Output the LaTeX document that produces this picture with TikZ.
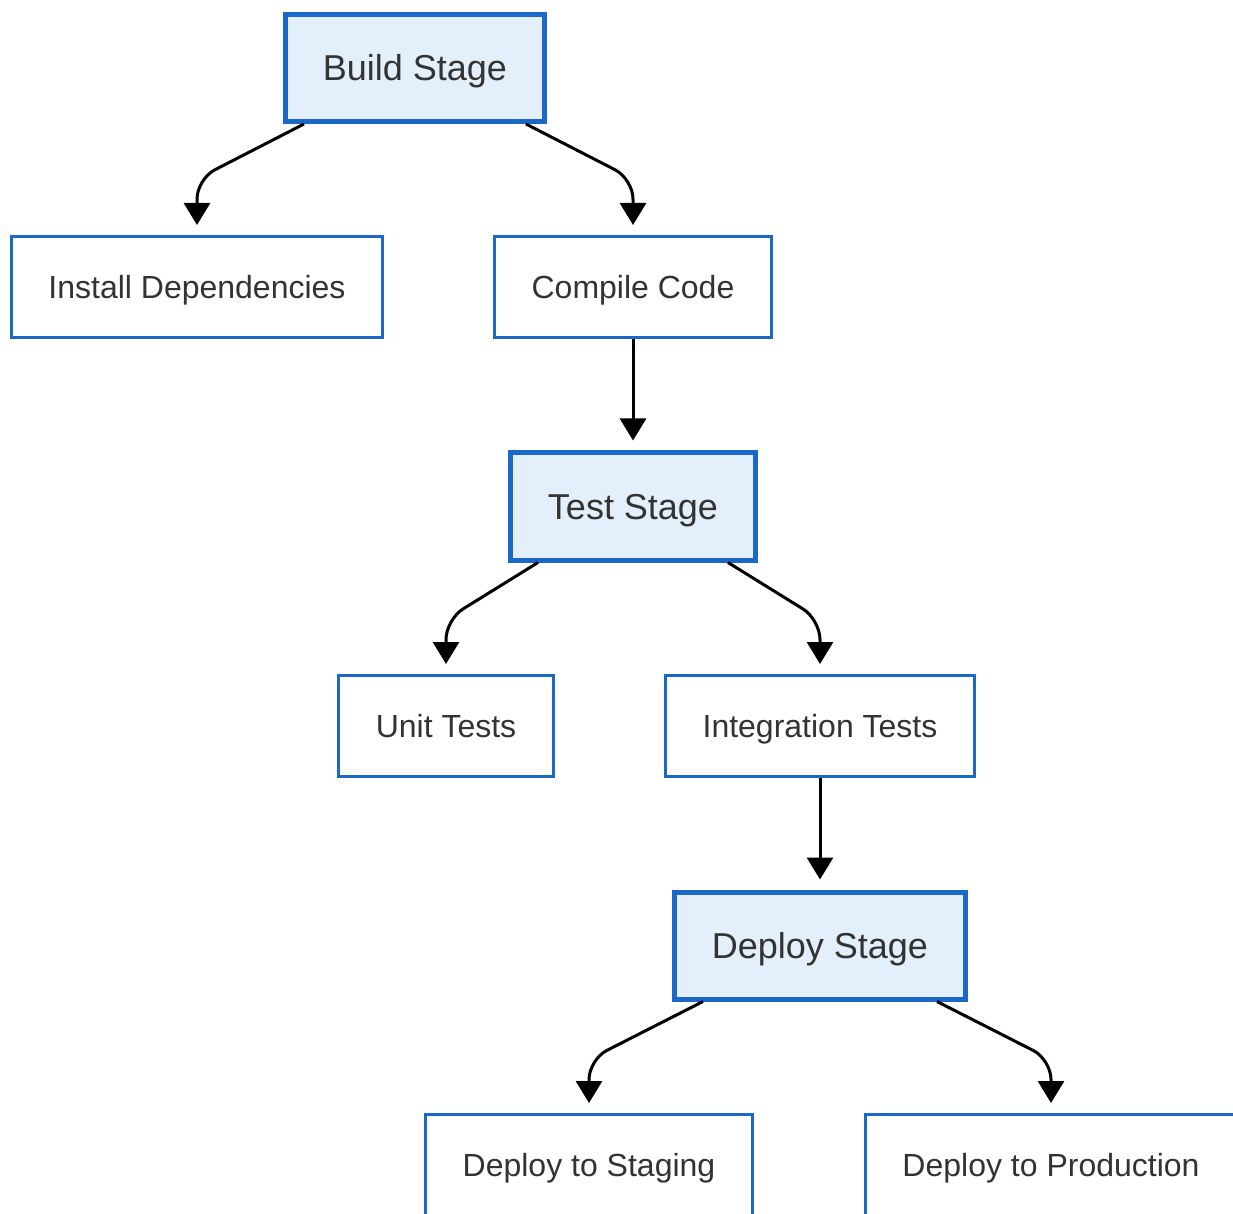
\documentclass[tikz,border=0pt]{standalone}
\usepackage{fontspec}
\setmainfont{Liberation Sans}
\usetikzlibrary{arrows.meta,calc}

\definecolor{boxblue}{HTML}{1C68C9}
\definecolor{stagefill}{HTML}{E3F0FB}
\definecolor{txtgray}{HTML}{333333}

\tikzstyle{stage} = [draw=boxblue,line width=2.5pt,fill=stagefill,text=txtgray,font=\fontsize{18}{22}\selectfont,text height=16.2pt,text depth=3.2pt,inner xsep=18.5pt,minimum height=53.5pt]
\tikzstyle{task} = [draw=boxblue,line width=1.5pt,fill=white,text=txtgray,font=\fontsize{16}{20}\selectfont,text height=14.4pt,text depth=2.9pt,inner xsep=18.5pt,minimum height=50.5pt]
\tikzstyle{link} = [line width=1.5pt,rounded corners=10pt,-{Triangle[width=13pt,length=11pt]}]

\begin{document}
\begin{tikzpicture}[x=0.5pt,y=-0.5pt]

\useasboundingbox (0,0) rectangle (1233,1214);
\clip (0,0) rectangle (1233,1214);

% Build stage
\node [stage] (build) at (415,68) {Build Stage};
\node [task] (inst) at (197,287) {Install Dependencies};
\node [task] (comp) at (633,287) {Compile Code};

% Test stage
\node [stage] (test) at (633,506.5) {Test Stage};
\node [task] (unit) at (446,726) {Unit Tests};
\node [task] (integ) at (820,726) {Integration Tests};

% Deploy stage
\node [stage] (deploy) at (820,945.5) {Deploy Stage};
\node [task] (stag) at (589,1165) {Deploy to Staging};
\node [task] (prod) at (1051,1165) {Deploy to Production};

% Links out of Build
\draw [link] ($(build.south)+(-111,0)$) -- ($(build.south -| inst.north)+(0,55)$) -- ([yshift=5pt]inst.north);
\draw [link] ($(build.south)+(111,0)$) -- ($(build.south -| comp.north)+(0,55)$) -- ([yshift=5pt]comp.north);
\draw [link] (comp.south) -- ([yshift=5pt]test.north);

% Links out of Test
\draw [link] ($(test.south)+(-95,0)$) -- ($(test.south -| unit.north)+(0,57)$) -- ([yshift=5pt]unit.north);
\draw [link] ($(test.south)+(95,0)$) -- ($(test.south -| integ.north)+(0,57)$) -- ([yshift=5pt]integ.north);
\draw [link] (integ.south) -- ([yshift=5pt]deploy.north);

% Links out of Deploy
\draw [link] ($(deploy.south)+(-117,0)$) -- ($(deploy.south -| stag.north)+(0,58)$) -- ([yshift=5pt]stag.north);
\draw [link] ($(deploy.south)+(117,0)$) -- ($(deploy.south -| prod.north)+(0,58)$) -- ([yshift=5pt]prod.north);

\end{tikzpicture}
\end{document}
